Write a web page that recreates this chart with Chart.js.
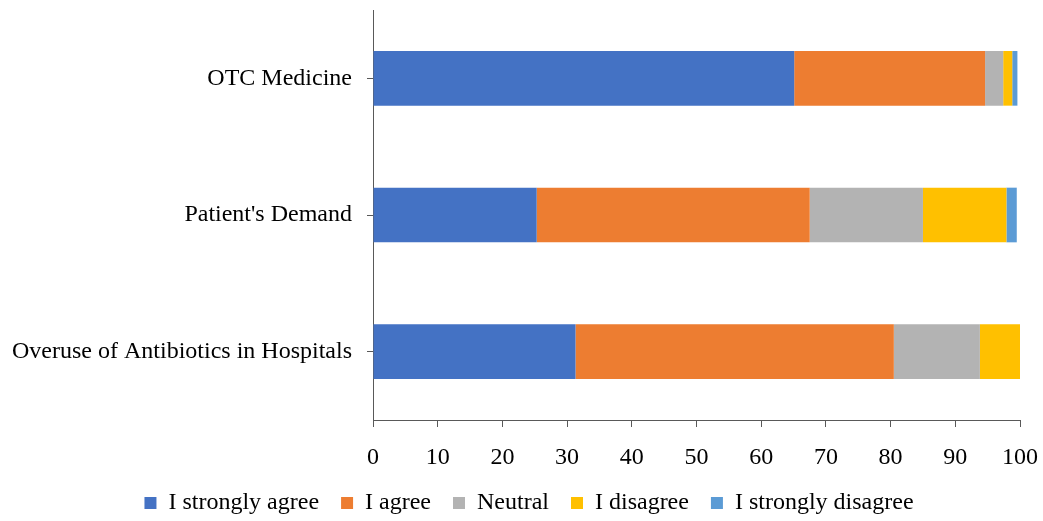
<!DOCTYPE html>
<html>
<head>
<meta charset="utf-8">
<script src="https://cdn.jsdelivr.net/npm/chart.js@4.4.1/dist/chart.umd.min.js"></script>
<style>
  html, body { margin: 0; padding: 0; background: #ffffff; overflow: hidden; }
  .wrap { position: relative; width: 1043px; height: 525px; }
</style>
</head>
<body>
<div class="wrap"><canvas id="chart"></canvas></div>
<script>
const categories = ['OTC Medicine', "Patient's Demand", 'Overuse of Antibiotics in Hospitals'];
const seriesNames = ['I strongly agree', 'I agree', 'Neutral', 'I disagree', 'I strongly disagree'];
const seriesColors = ['#4472C4', '#ED7D31', '#B3B3B3', '#FFC000', '#5B9BD5'];

const stronglyAgree = [65.1, 25.3, 31.3];
const agree = [29.5, 42.2, 49.2];
const neutral = [2.8, 17.5, 13.3];
const disagree = [1.4, 12.9, 6.2];
const stronglyDisagree = [0.8, 1.6, 0];

const xTicks = [0, 10, 20, 30, 40, 50, 60, 70, 80, 90, 100];

const seriesValues = [stronglyAgree, agree, neutral, disagree, stronglyDisagree];
const axisColor = '#595959';
const fontFamily = "'Liberation Serif', 'Times New Roman', serif";

Chart.defaults.font.family = fontFamily;
Chart.defaults.color = '#000000';

// the legend in the original sits a bit right of centre
const legendShift = {
  id: 'legendShift',
  afterLayout(chart) {
    if (!chart.legend) return;
    chart.legend.left += 19;
    chart.legend.right += 19;
  }
};

new Chart(document.querySelector('#chart'), {
  type: 'bar',
  data: {
    labels: categories,
    datasets: seriesNames.map((name, i) => ({
      label: name,
      data: seriesValues[i],
      backgroundColor: seriesColors[i],
      borderWidth: 0,
      barPercentage: 0.4,
      categoryPercentage: 1
    }))
  },
  plugins: [legendShift],
  options: {
    indexAxis: 'y',
    responsive: true,
    maintainAspectRatio: false,
    animation: false,
    layout: { padding: { top: 10, right: 23, left: 0, bottom: 0 } },
    plugins: {
      legend: {
        position: 'bottom',
        labels: {
          boxWidth: 12,
          boxHeight: 12,
          padding: 22,
          font: { size: 24 },
          color: '#000000'
        }
      },
      tooltip: { enabled: false }
    },
    scales: {
      x: {
        stacked: true,
        min: 0,
        max: 100,
        afterBuildTicks(scale) {
          scale.ticks = xTicks.map((v) => ({ value: v }));
        },
        afterFit(scale) {
          scale.height = 49;
          scale.paddingLeft = 0;
          scale.paddingRight = 0;
        },
        grid: { drawOnChartArea: false, drawTicks: true, tickLength: 7, color: axisColor },
        border: { display: true, color: axisColor, width: 1 },
        ticks: { font: { size: 24 }, color: '#000000', padding: 16, maxRotation: 0 }
      },
      y: {
        stacked: true,
        afterFit(scale) {
          scale.width = 373;
          scale.paddingTop = 0;
          scale.paddingBottom = 0;
        },
        grid: { drawOnChartArea: false, drawTicks: true, tickLength: 6, offset: false, color: axisColor },
        border: { display: true, color: axisColor, width: 1 },
        ticks: { font: { size: 24 }, color: '#000000', padding: 15 }
      }
    }
  }
});
</script>
</body>
</html>
